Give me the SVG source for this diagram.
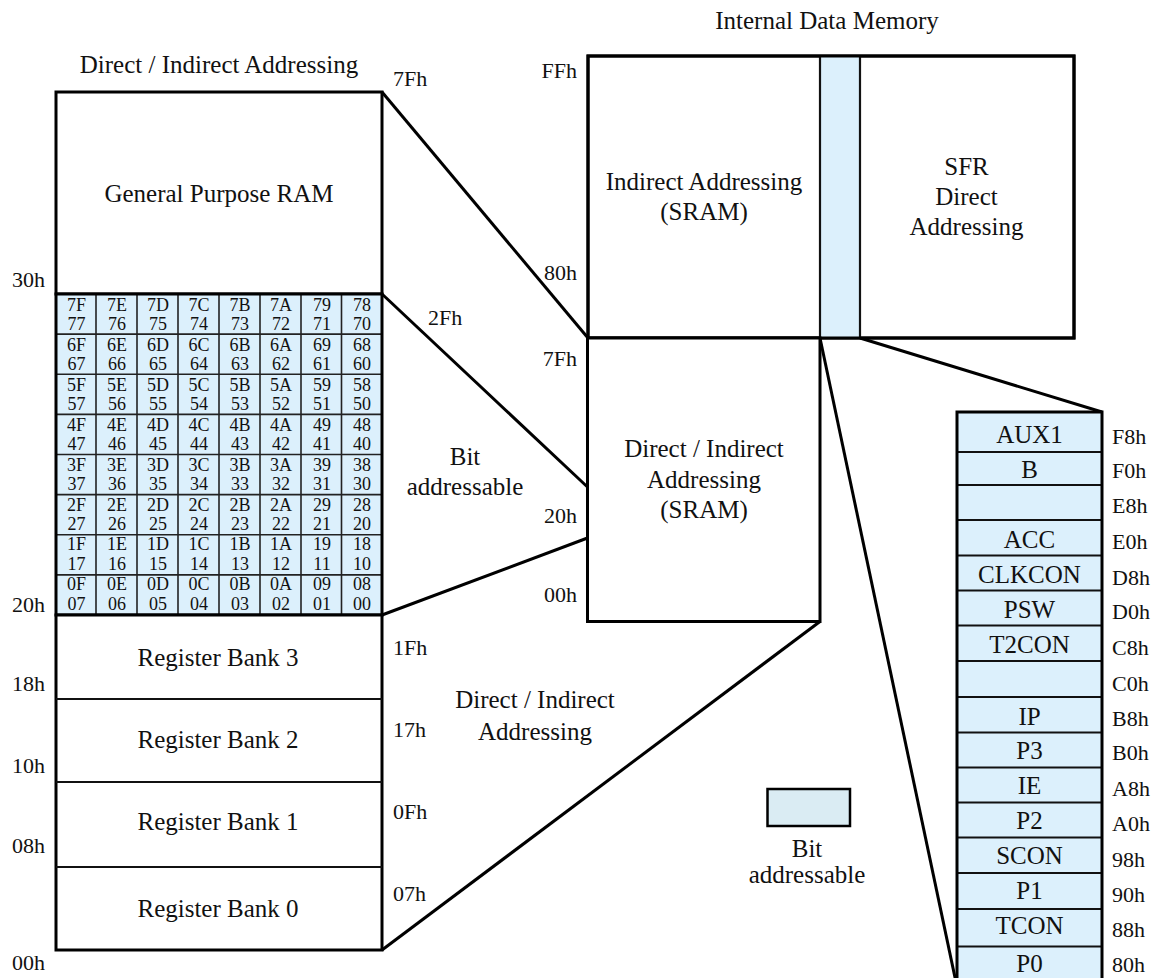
<svg xmlns="http://www.w3.org/2000/svg" width="1156" height="978" viewBox="0 0 1156 978" font-family="Liberation Serif, Times New Roman, DejaVu Serif, serif">
<style>
.t{font-family:'Liberation Serif','Times New Roman','DejaVu Serif',serif;font-size:25px;fill:#111}
.a{font-size:22px}
.g{font-size:18px}
.c{text-anchor:middle}
.e{text-anchor:end}
.thick{fill:none;stroke:#000;stroke-width:3}
.wb{fill:#fff;stroke:#000;stroke-width:3}
.blue{fill:#dcf0fc}
.thin{stroke:#222;stroke-width:1.6;fill:none}
.div{stroke:#111;stroke-width:2.2;fill:none}
.conn{stroke:#000;stroke-width:3;fill:none}
</style>
<rect width="1156" height="978" fill="#fff"/>

<text class="t c" x="827" y="29">Internal Data Memory</text>
<text class="t c" x="219" y="73">Direct / Indirect Addressing</text>

<g id="connectors">
<line class="conn" x1="382" y1="92" x2="588" y2="338"/>
<line class="conn" x1="382" y1="294" x2="587.5" y2="487"/>
<line class="conn" x1="382" y1="615" x2="587.5" y2="538"/>
<line class="conn" x1="382" y1="950" x2="820" y2="621.5"/>
<line class="conn" x1="820" y1="338" x2="957" y2="987"/>
<line class="conn" x1="860" y1="338" x2="1102" y2="412"/>
</g>

<g id="gpram">
<rect class="wb" x="56" y="92" width="326" height="202"/>
<text class="t c" x="219" y="202">General Purpose RAM</text>
</g>

<g id="bitgrid">
<rect class="blue" x="56" y="294" width="326" height="321"/>
<g class="thin">
<line x1="96" y1="294" x2="96" y2="615"/>
<line x1="137" y1="294" x2="137" y2="615"/>
<line x1="178" y1="294" x2="178" y2="615"/>
<line x1="219" y1="294" x2="219" y2="615"/>
<line x1="260" y1="294" x2="260" y2="615"/>
<line x1="301" y1="294" x2="301" y2="615"/>
<line x1="341.5" y1="294" x2="341.5" y2="615"/>
<line x1="56" y1="334.1" x2="382" y2="334.1"/>
<line x1="56" y1="374.25" x2="382" y2="374.25"/>
<line x1="56" y1="414.4" x2="382" y2="414.4"/>
<line x1="56" y1="454.5" x2="382" y2="454.5"/>
<line x1="56" y1="494.6" x2="382" y2="494.6"/>
<line x1="56" y1="534.75" x2="382" y2="534.75"/>
<line x1="56" y1="574.9" x2="382" y2="574.9"/>
</g>
<rect class="thick" x="56" y="294" width="326" height="321"/>
<g class="t g c">
<text y="311"><tspan x="76.5">7F</tspan><tspan x="117">7E</tspan><tspan x="158">7D</tspan><tspan x="199">7C</tspan><tspan x="240">7B</tspan><tspan x="281">7A</tspan><tspan x="322">79</tspan><tspan x="362">78</tspan></text>
<text y="330.3"><tspan x="76.5">77</tspan><tspan x="117">76</tspan><tspan x="158">75</tspan><tspan x="199">74</tspan><tspan x="240">73</tspan><tspan x="281">72</tspan><tspan x="322">71</tspan><tspan x="362">70</tspan></text>
<text y="350.9"><tspan x="76.5">6F</tspan><tspan x="117">6E</tspan><tspan x="158">6D</tspan><tspan x="199">6C</tspan><tspan x="240">6B</tspan><tspan x="281">6A</tspan><tspan x="322">69</tspan><tspan x="362">68</tspan></text>
<text y="370.2"><tspan x="76.5">67</tspan><tspan x="117">66</tspan><tspan x="158">65</tspan><tspan x="199">64</tspan><tspan x="240">63</tspan><tspan x="281">62</tspan><tspan x="322">61</tspan><tspan x="362">60</tspan></text>
<text y="390.8"><tspan x="76.5">5F</tspan><tspan x="117">5E</tspan><tspan x="158">5D</tspan><tspan x="199">5C</tspan><tspan x="240">5B</tspan><tspan x="281">5A</tspan><tspan x="322">59</tspan><tspan x="362">58</tspan></text>
<text y="410.1"><tspan x="76.5">57</tspan><tspan x="117">56</tspan><tspan x="158">55</tspan><tspan x="199">54</tspan><tspan x="240">53</tspan><tspan x="281">52</tspan><tspan x="322">51</tspan><tspan x="362">50</tspan></text>
<text y="430.7"><tspan x="76.5">4F</tspan><tspan x="117">4E</tspan><tspan x="158">4D</tspan><tspan x="199">4C</tspan><tspan x="240">4B</tspan><tspan x="281">4A</tspan><tspan x="322">49</tspan><tspan x="362">48</tspan></text>
<text y="450"><tspan x="76.5">47</tspan><tspan x="117">46</tspan><tspan x="158">45</tspan><tspan x="199">44</tspan><tspan x="240">43</tspan><tspan x="281">42</tspan><tspan x="322">41</tspan><tspan x="362">40</tspan></text>
<text y="470.6"><tspan x="76.5">3F</tspan><tspan x="117">3E</tspan><tspan x="158">3D</tspan><tspan x="199">3C</tspan><tspan x="240">3B</tspan><tspan x="281">3A</tspan><tspan x="322">39</tspan><tspan x="362">38</tspan></text>
<text y="489.9"><tspan x="76.5">37</tspan><tspan x="117">36</tspan><tspan x="158">35</tspan><tspan x="199">34</tspan><tspan x="240">33</tspan><tspan x="281">32</tspan><tspan x="322">31</tspan><tspan x="362">30</tspan></text>
<text y="510.5"><tspan x="76.5">2F</tspan><tspan x="117">2E</tspan><tspan x="158">2D</tspan><tspan x="199">2C</tspan><tspan x="240">2B</tspan><tspan x="281">2A</tspan><tspan x="322">29</tspan><tspan x="362">28</tspan></text>
<text y="529.8"><tspan x="76.5">27</tspan><tspan x="117">26</tspan><tspan x="158">25</tspan><tspan x="199">24</tspan><tspan x="240">23</tspan><tspan x="281">22</tspan><tspan x="322">21</tspan><tspan x="362">20</tspan></text>
<text y="550.4"><tspan x="76.5">1F</tspan><tspan x="117">1E</tspan><tspan x="158">1D</tspan><tspan x="199">1C</tspan><tspan x="240">1B</tspan><tspan x="281">1A</tspan><tspan x="322">19</tspan><tspan x="362">18</tspan></text>
<text y="569.7"><tspan x="76.5">17</tspan><tspan x="117">16</tspan><tspan x="158">15</tspan><tspan x="199">14</tspan><tspan x="240">13</tspan><tspan x="281">12</tspan><tspan x="322">11</tspan><tspan x="362">10</tspan></text>
<text y="590.3"><tspan x="76.5">0F</tspan><tspan x="117">0E</tspan><tspan x="158">0D</tspan><tspan x="199">0C</tspan><tspan x="240">0B</tspan><tspan x="281">0A</tspan><tspan x="322">09</tspan><tspan x="362">08</tspan></text>
<text y="609.6"><tspan x="76.5">07</tspan><tspan x="117">06</tspan><tspan x="158">05</tspan><tspan x="199">04</tspan><tspan x="240">03</tspan><tspan x="281">02</tspan><tspan x="322">01</tspan><tspan x="362">00</tspan></text>
</g>
</g>

<g id="banks">
<rect class="wb" x="56" y="615" width="326" height="335"/>
<line class="div" x1="56" y1="699" x2="382" y2="699"/>
<line class="div" x1="56" y1="782" x2="382" y2="782"/>
<line class="div" x1="56" y1="867" x2="382" y2="867"/>
<text class="t c" x="218" y="666">Register Bank 3</text>
<text class="t c" x="218" y="748">Register Bank 2</text>
<text class="t c" x="218" y="830">Register Bank 1</text>
<text class="t c" x="218" y="917">Register Bank 0</text>
</g>

<g id="left-addr" class="t a">
<text x="12" y="287">30h</text>
<text x="12" y="612">20h</text>
<text x="12" y="691">18h</text>
<text x="12" y="773">10h</text>
<text x="12" y="853">08h</text>
<text x="12" y="970">00h</text>
<text x="393" y="86">7Fh</text>
<text x="428" y="325">2Fh</text>
<text x="393" y="655">1Fh</text>
<text x="393" y="737">17h</text>
<text x="393" y="819">0Fh</text>
<text x="393" y="901">07h</text>
</g>

<g id="mid-labels" class="t">
<text class="c" x="465" y="465">Bit</text>
<text class="c" x="465" y="495">addressable</text>
<text class="c" x="535" y="708">Direct / Indirect</text>
<text class="c" x="535" y="740">Addressing</text>
</g>

<g id="upper-block">
<rect class="wb" x="588" y="56" width="486" height="282"/>
<rect class="blue" x="820" y="56" width="40" height="282"/>
<line class="div" x1="820" y1="56" x2="820" y2="338"/>
<line class="div" x1="860" y1="56" x2="860" y2="338"/>
<rect class="thick" x="588" y="56" width="486" height="282"/>
<text class="t c" x="704" y="190">Indirect Addressing</text>
<text class="t c" x="704" y="220">(SRAM)</text>
<text class="t c" x="966.5" y="175">SFR</text>
<text class="t c" x="966.5" y="205">Direct</text>
<text class="t c" x="966.5" y="235">Addressing</text>
</g>

<g id="lower-block">
<rect class="wb" x="587.5" y="338" width="232.5" height="283.5"/>
<text class="t c" x="704" y="457">Direct / Indirect</text>
<text class="t c" x="704" y="488">Addressing</text>
<text class="t c" x="704" y="518">(SRAM)</text>
</g>

<g id="mid-addr" class="t a e">
<text x="577" y="78">FFh</text>
<text x="577" y="280">80h</text>
<text x="577" y="366">7Fh</text>
<text x="577" y="523">20h</text>
<text x="577" y="602">00h</text>
</g>

<g id="sfr">
<rect class="blue" x="957" y="412" width="145" height="575"/>
<g class="div">
<line x1="957" y1="452" x2="1102" y2="452"/>
<line x1="957" y1="485" x2="1102" y2="485"/>
<line x1="957" y1="520" x2="1102" y2="520"/>
<line x1="957" y1="555.5" x2="1102" y2="555.5"/>
<line x1="957" y1="590.5" x2="1102" y2="590.5"/>
<line x1="957" y1="625.5" x2="1102" y2="625.5"/>
<line x1="957" y1="661" x2="1102" y2="661"/>
<line x1="957" y1="697" x2="1102" y2="697"/>
<line x1="957" y1="732.5" x2="1102" y2="732.5"/>
<line x1="957" y1="767.5" x2="1102" y2="767.5"/>
<line x1="957" y1="802.5" x2="1102" y2="802.5"/>
<line x1="957" y1="837.5" x2="1102" y2="837.5"/>
<line x1="957" y1="873" x2="1102" y2="873"/>
<line x1="957" y1="909" x2="1102" y2="909"/>
<line x1="957" y1="946.5" x2="1102" y2="946.5"/>
</g>
<rect class="thick" x="957" y="412" width="145" height="575"/>
<g class="t c">
<text x="1029.5" y="443">AUX1</text>
<text x="1029.5" y="478">B</text>
<text x="1029.5" y="548">ACC</text>
<text x="1029.5" y="583">CLKCON</text>
<text x="1029.5" y="618">PSW</text>
<text x="1029.5" y="653">T2CON</text>
<text x="1029.5" y="725">IP</text>
<text x="1029.5" y="759">P3</text>
<text x="1029.5" y="794">IE</text>
<text x="1029.5" y="829">P2</text>
<text x="1029.5" y="864">SCON</text>
<text x="1029.5" y="899">P1</text>
<text x="1029.5" y="934">TCON</text>
<text x="1029.5" y="972">P0</text>
</g>
<g class="t a">
<text x="1112" y="444">F8h</text>
<text x="1112" y="478">F0h</text>
<text x="1112" y="513">E8h</text>
<text x="1112" y="549">E0h</text>
<text x="1112" y="585">D8h</text>
<text x="1112" y="618.5">D0h</text>
<text x="1112" y="655">C8h</text>
<text x="1112" y="691">C0h</text>
<text x="1112" y="726">B8h</text>
<text x="1112" y="760">B0h</text>
<text x="1112" y="796">A8h</text>
<text x="1112" y="831">A0h</text>
<text x="1112" y="867">98h</text>
<text x="1112" y="902">90h</text>
<text x="1112" y="937">88h</text>
<text x="1112" y="972">80h</text>
</g>
</g>

<g id="legend">
<rect x="767.5" y="789" width="82.5" height="37" fill="#daecf3" stroke="#000" stroke-width="2.5"/>
<text class="t c" x="807" y="857">Bit</text>
<text class="t c" x="807" y="883">addressable</text>
</g>
</svg>
